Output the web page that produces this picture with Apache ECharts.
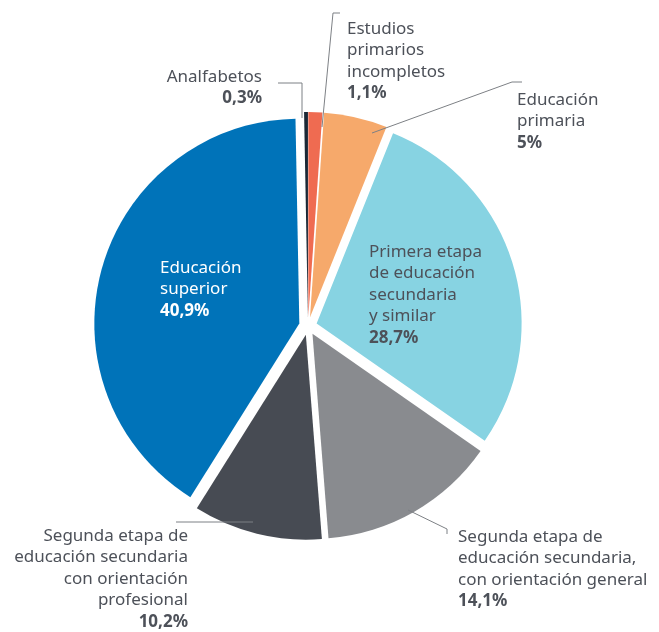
<!DOCTYPE html>
<html>
<head>
<meta charset="utf-8">
<script src="https://cdn.jsdelivr.net/npm/echarts@6/dist/echarts.min.js"></script>
<style>
  html, body { margin: 0; padding: 0; background: #fff; }
  #chart { width: 659px; height: 632px; }
</style>
</head>
<body>
<div id="chart"></div>
<script>
// categories, clockwise from the top
var categories = [
  'Estudios primarios incompletos',
  'Educación primaria',
  'Primera etapa de educación secundaria y similar',
  'Segunda etapa de educación secundaria, con orientación general',
  'Segunda etapa de educación secundaria con orientación profesional',
  'Educación superior',
  'Analfabetos'
]
var labelTexts = [
  'Estudios\nprimarios\nincompletos',
  'Educación\nprimaria',
  'Primera etapa\nde educación\nsecundaria\ny similar',
  'Segunda etapa de\neducación secundaria,\ncon orientación general',
  'Segunda etapa de\neducación secundaria\ncon orientación\nprofesional',
  'Educación\nsuperior',
  'Analfabetos'
]
var values = [1.1, 5, 28.7, 14.1, 10.2, 40.9, 0.3]
var colors = ['#ef6b51', '#f6a96b', '#87d3e2', '#898b8f', '#474b53', '#0073b9', '#1b2836']

// label placement: [x, y(top), align]
var labelPlaces = [
  [347, 18, 'left'],
  [517, 89, 'left'],
  [369, 241, 'left'],
  [458, 526, 'left'],
  [188, 525, 'right'],
  [160, 257, 'left'],
  [262, 66, 'right']
]
var leaderLines = [
  [[322, 127], [333, 13], [340, 13]],
  [[372, 133], [512, 82], [522, 82]],
  null,
  [[408, 510], [447, 529], [447, 534]],
  [[253, 522], [176, 522]],
  null,
  [[302, 118], [302, 83], [278, 83]]
]

var chart = echarts.init(document.getElementById('chart'))

var pieBase = {
  type: 'pie',
  center: [308, 326],
  radius: [0, 205],
  startAngle: 90,
  clockwise: true,
  avoidLabelOverlap: false,
  emphasis: { disabled: true }
}

// slices, slightly pulled apart
var sliceSeries = Object.assign({}, pieBase, {
  selectedMode: 'multiple',
  selectedOffset: 9,
  select: { itemStyle: { borderWidth: 0 } },
  label: { show: false },
  labelLine: { show: false },
  data: categories.map(function (c, i) {
    return { name: c, value: values[i], selected: true, itemStyle: { color: colors[i] } }
  })
})

// same pie, invisible, carrying the labels and leader lines
var labelSeries = Object.assign({}, pieBase, {
  silent: true,
  z: 3,
  itemStyle: { color: 'rgba(0,0,0,0)' },
  label: {
    fontFamily: 'Noto Sans',
    fontSize: 17,
    lineHeight: 21.5,
    opacity: 1,
    formatter: function (p) {
      var w = p.dataIndex === 5 ? 'w' : ''
      var lines = labelTexts[p.dataIndex].split('\n').map(function (l) {
        return '{n' + w + '|' + l + '}'
      })
      lines.push('{v' + w + '|' + String(p.value).replace('.', ',') + '%}')
      return lines.join('\n')
    },
    rich: {
      n: { color: '#4d5159', fontFamily: 'Noto Sans', fontSize: 17, lineHeight: 21.5 },
      v: { color: '#4d5159', fontFamily: 'Noto Sans', fontSize: 17, lineHeight: 21.5, fontWeight: 'bold' },
      nw: { color: '#ffffff', fontFamily: 'Noto Sans', fontSize: 17, lineHeight: 21.5 },
      vw: { color: '#ffffff', fontFamily: 'Noto Sans', fontSize: 17, lineHeight: 21.5, fontWeight: 'bold' }
    }
  },
  labelLine: {
    lineStyle: { color: '#7d8085', width: 1, opacity: 1 }
  },
  labelLayout: function (p) {
    var pl = labelPlaces[p.dataIndex]
    var out = { x: pl[0], y: pl[1], align: pl[2], verticalAlign: 'top' }
    if (leaderLines[p.dataIndex]) out.labelLinePoints = leaderLines[p.dataIndex]
    return out
  },
  data: categories.map(function (c, i) {
    var inside = leaderLines[i] === null
    return {
      name: c,
      value: values[i],
      label: { position: inside ? 'inside' : 'outside' },
      labelLine: { show: !inside }
    }
  })
})

chart.setOption({
  animation: false,
  series: [sliceSeries, labelSeries]
})
</script>
</body>
</html>
